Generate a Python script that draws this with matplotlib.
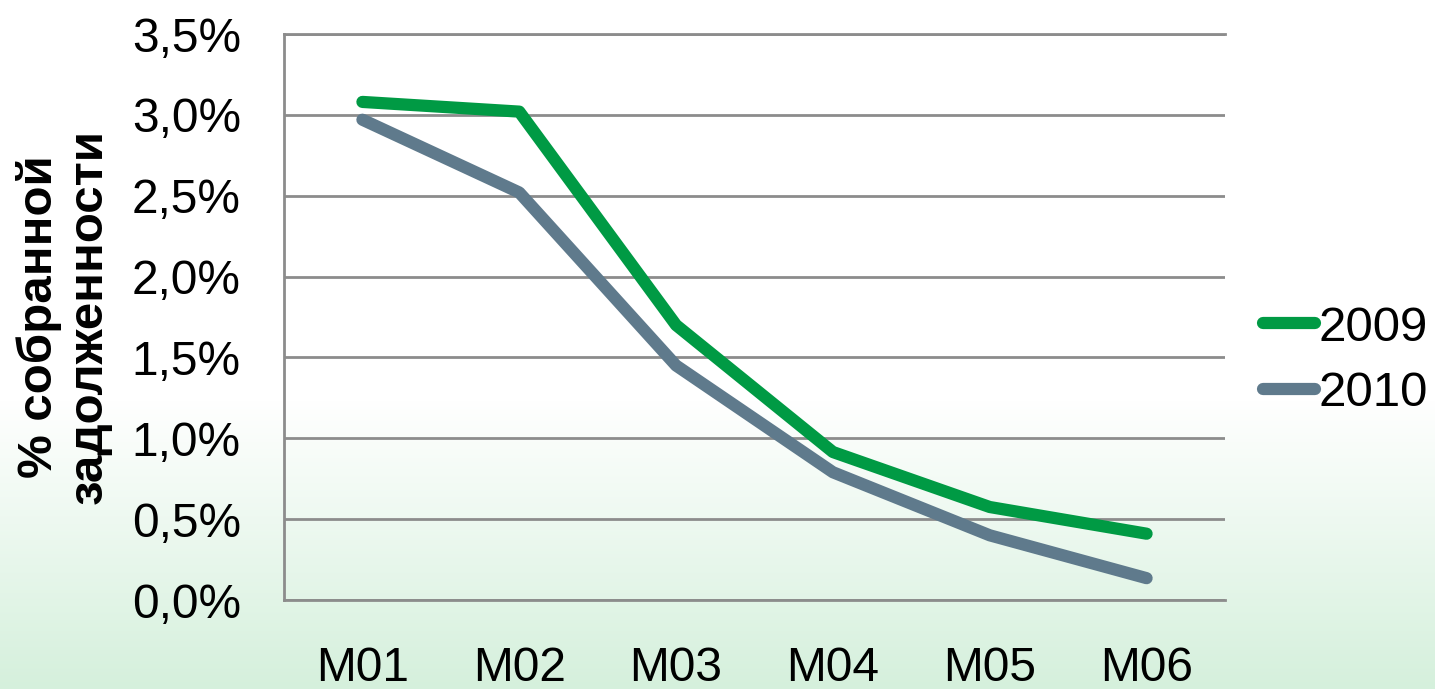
import numpy as np
import matplotlib
matplotlib.use("Agg")
import matplotlib.pyplot as plt

plt.rcParams['font.family'] = ['Liberation Sans', 'DejaVu Sans']

# data
months = ["M01", "M02", "M03", "M04", "M05", "M06"]
y2009 = [3.08, 3.02, 1.70, 0.915, 0.575, 0.41]
y2010 = [2.97, 2.52, 1.45, 0.79, 0.40, 0.135]
yticks = [0.0, 0.5, 1.0, 1.5, 2.0, 2.5, 3.0, 3.5]

W, H = 1435, 689
fig = plt.figure(figsize=(W / 100, H / 100), dpi=100)

# background: white on top, fading to pale green at the bottom
bg = fig.add_axes([0, 0, 1, 1], zorder=0)
rows = np.arange(H)
t = np.clip((rows - 400) / (H - 1 - 400), 0, 1)
top = np.array([1.0, 1.0, 1.0])
bot = np.array([213, 240, 220]) / 255
grad = top[None, :] * (1 - t[:, None]) + bot[None, :] * t[:, None]
img = np.repeat(grad[:, None, :], 4, axis=1)
bg.imshow(img, aspect="auto", extent=[0, 1, 0, 1])
bg.axis("off")

ax = fig.add_axes([284 / W, 1 - 600 / H, (1225 - 284) / W, (600 - 34) / H], zorder=1)
ax.patch.set_alpha(0)

x = np.arange(len(months))
ax.plot(x, y2009, color="#009a44", lw=8.8, solid_capstyle="round",
        solid_joinstyle="round", label="2009", zorder=3)
ax.plot(x, y2010, color="#5f7a8c", lw=8.8, solid_capstyle="round",
        solid_joinstyle="round", label="2010", zorder=2)

ax.set_xlim(-0.5, len(months) - 0.5)
ax.set_ylim(0, 3.5)
ax.set_yticks(yticks)
ax.set_yticklabels([f"{v:.1f}%".replace(".", ",") for v in yticks])
ax.set_xticks(x)
ax.set_xticklabels(months)

ax.yaxis.grid(True, color="#8c8c8c", lw=2)
ax.set_axisbelow(True)
for s in ["top", "left", "bottom"]:
    ax.spines[s].set_color("#8c8c8c")
    ax.spines[s].set_linewidth(2)
ax.spines["right"].set_visible(False)
ax.tick_params(axis="both", length=0, labelsize=34.5)
ax.tick_params(axis="y", pad=31)
ax.tick_params(axis="x", pad=33)

fig.text(64 / W, 1 - 317 / H, "% собранной\nзадолженности", rotation=90,
         ha="center", va="center", ma="center", fontsize=35.5, fontweight="bold",
         linespacing=1.15)

ax.legend(loc="center left", bbox_to_anchor=(1263 / W, 1 - 361 / H),
          bbox_transform=fig.transFigure, frameon=False, fontsize=35.5,
          handlelength=1.05, handletextpad=0.08, borderpad=0, borderaxespad=0,
          labelspacing=0.42)

fig.savefig("out.png", dpi=100)
